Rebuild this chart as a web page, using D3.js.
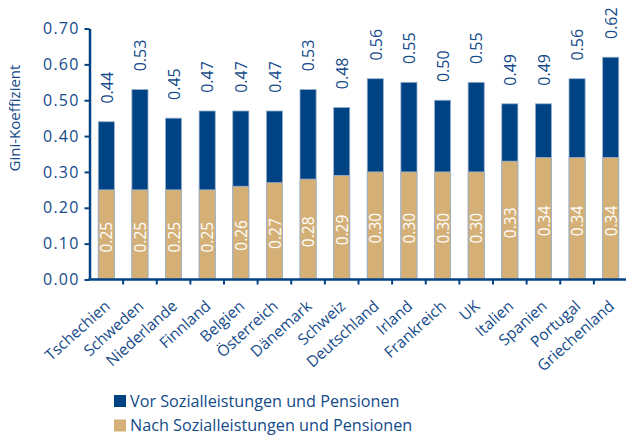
<!DOCTYPE html>
<html><head><meta charset="utf-8">
<script src="https://cdn.jsdelivr.net/npm/d3@7"></script>
<style>
html,body{margin:0;padding:0;background:#fff;}
svg{display:block;font-family:"Open Sans",sans-serif;}
</style></head>
<body><svg id="c" width="626" height="435"></svg>
<script>
const countries = ["Tschechien","Schweden","Niederlande","Finnland","Belgien","Österreich","Dänemark","Schweiz","Deutschland","Irland","Frankreich","UK","Italien","Spanien","Portugal","Griechenland"];
const before = [0.44,0.53,0.45,0.47,0.47,0.47,0.53,0.48,0.56,0.55,0.50,0.55,0.49,0.49,0.56,0.62];
const after  = [0.25,0.25,0.25,0.25,0.26,0.27,0.28,0.29,0.30,0.30,0.30,0.30,0.33,0.34,0.34,0.34];
const yTicks = [0,0.1,0.2,0.3,0.4,0.5,0.6,0.7];
const seriesNames = ["Vor Sozialleistungen und Pensionen","Nach Sozialleistungen und Pensionen"];

const navy = "#004384", tan = "#d4b077", textC = "#134a89", edge = "#9db3cf";
const svg = d3.select("#c");
const x = d3.scaleBand().domain(countries).range([89.5, 627.5]).paddingInner(0.52).paddingOuter(0.26);
const y = d3.scaleLinear().domain([0, 0.7]).range([279.5, 28.5]);

// bars
const g = svg.append("g");
g.selectAll("rect.b").data(countries).join("rect")
  .attr("x", d => x(d)).attr("width", x.bandwidth())
  .attr("y", (d,i) => y(before[i])).attr("height", (d,i) => y(0) - y(before[i]))
  .attr("fill", navy).attr("stroke", edge).attr("stroke-width", 0.8);
g.selectAll("rect.a").data(countries).join("rect")
  .attr("x", d => x(d)).attr("width", x.bandwidth())
  .attr("y", (d,i) => y(after[i])).attr("height", (d,i) => y(0) - y(after[i]))
  .attr("fill", tan).attr("stroke", edge).attr("stroke-width", 0.8);

// labels
const cx = d => x(d) + x.bandwidth()/2;
g.selectAll("text.top").data(countries).join("text")
  .attr("transform", (d,i) => `translate(${cx(d)+0.5},${y(before[i]) - 34}) rotate(-90)`)
  .attr("text-anchor","middle").attr("dy","0.36em")
  .attr("font-size", 16).attr("fill", textC)
  .text((d,i) => before[i].toFixed(2));
g.selectAll("text.in").data(countries).join("text")
  .attr("transform", (d,i) => `translate(${cx(d)+0.5},${(y(after[i]) + y(0))/2 + 2.5}) rotate(-90)`)
  .attr("text-anchor","middle").attr("dy","0.36em")
  .attr("font-size", 15.5).attr("fill", "#fff")
  .text((d,i) => after[i].toFixed(2));

// y axis
const ya = svg.append("g").attr("transform","translate(89.5,0)")
  .call(d3.axisLeft(y).tickValues(yTicks).tickFormat(d3.format(".2f")).tickSize(5).tickSizeOuter(0));
ya.select(".domain").attr("stroke", navy).attr("stroke-width", 2.5);
ya.selectAll(".tick line").attr("stroke", navy).attr("stroke-width", 2);
ya.selectAll(".tick text").attr("fill", textC).attr("font-size", 16).attr("x", -10)
  .attr("font-family","Open Sans").style("letter-spacing","1.2px");

// x axis
const bounds = d3.range(countries.length + 1).map(i => 89.5 + i * (538/16));
svg.append("line").attr("x1", 88.3).attr("x2", 626).attr("y1", y(0)).attr("y2", y(0))
  .attr("stroke", navy).attr("stroke-width", 2.5);
svg.selectAll("line.xt").data(bounds.slice(1)).join("line")
  .attr("x1", d => d).attr("x2", d => d).attr("y1", y(0)).attr("y2", y(0)+5)
  .attr("stroke", navy).attr("stroke-width", 2);
svg.selectAll("text.xl").data(countries).join("text")
  .attr("transform", d => `translate(${cx(d)+1},${y(0)+24}) rotate(-42)`)
  .attr("text-anchor","end").attr("dy","0.35em")
  .attr("font-size", 15.5).attr("fill", textC)
  .text(d => d);

// y title
svg.append("text").attr("transform","translate(15,118) rotate(-90)")
  .attr("text-anchor","middle").attr("dy","0.35em").attr("font-size",15).attr("fill",textC)
  .text("Gini-Koeffizient");

// legend
const lg = svg.append("g");
[navy, tan].forEach((c, i) => {
  lg.append("rect").attr("x",114).attr("y",395 + i*24.5).attr("width",12).attr("height",12).attr("fill",c);
  lg.append("text").attr("x",130).attr("y",401 + i*24.5).attr("dy","0.35em")
    .attr("font-size",16.2).attr("fill",textC).text(seriesNames[i]);
});
</script></body></html>
